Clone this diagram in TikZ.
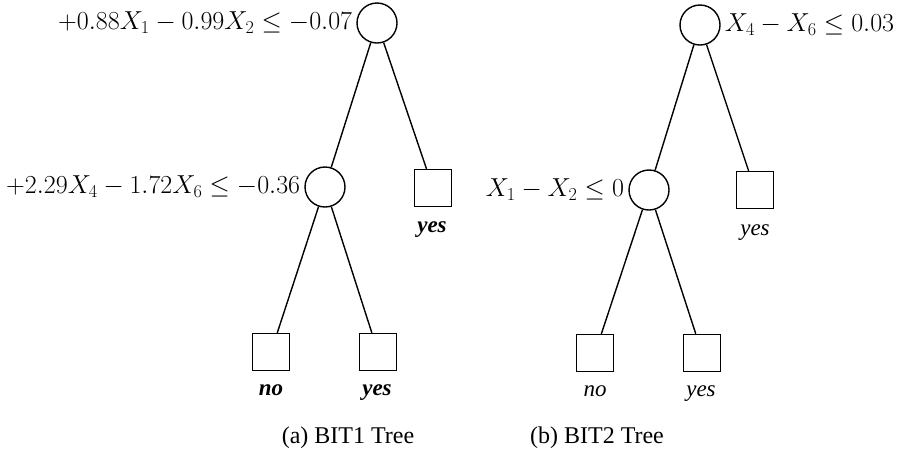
\RequirePackage{fix-cm}
\documentclass[tikz,border=0pt]{standalone}
\usepackage[no-math]{fontspec}
\setmainfont{Liberation Serif}
\begin{document}
\begin{tikzpicture}[x=1pt,y=-1pt,
  test/.style={draw,circle,line width=1.4pt,minimum size=40pt,inner sep=0pt},
  leaf/.style={draw,rectangle,line width=1.4pt,minimum size=37pt,inner sep=0pt},
  edge/.style={line width=1.4pt},
  cond/.style={inner sep=0pt,font=\fontsize{26}{30}\selectfont},
  lbl/.style={inner sep=0pt,anchor=base,font=\fontsize{23}{28}\selectfont\itshape},
  lblb/.style={inner sep=0pt,anchor=base,font=\fontsize{23}{28}\selectfont\bfseries\itshape},
  captxt/.style={inner sep=0pt,anchor=base,font=\fontsize{24}{28}\selectfont}]
\useasboundingbox (0,0) rectangle (902,459);

% BIT1 tree
\node[test] (a1) at (377,23) {};
\node[test] (a2) at (325,187) {};
\node[leaf] (a3) at (433,188) {};
\node[leaf] (a4) at (271,352) {};
\node[leaf] (a5) at (378,352) {};
\draw[edge] (a1) -- (a2);
\draw[edge] (a1) -- (a3);
\draw[edge] (a2) -- (a4);
\draw[edge] (a2) -- (a5);
\node[cond,anchor=east] (ca1) at ([xshift=-4pt]a1.west) {$+0.88X_1-0.99X_2\leq-0.07$};
\node[cond,anchor=east] (ca2) at ([xshift=-4pt]a2.west) {$+2.29X_4-1.72X_6\leq-0.36$};
\node[lblb] (la3) at (432,232) {yes};
\node[lblb] (la4) at (271,395) {no};
\node[lblb] (la5) at (377,395) {yes};
\node[captxt] (capa) at (348,443) {(a) BIT1 Tree};

% BIT2 tree
\node[test] (b1) at (700,25) {};
\node[test] (b2) at (649,190) {};
\node[leaf] (b3) at (755,190) {};
\node[leaf] (b4) at (595,353) {};
\node[leaf] (b5) at (702,353) {};
\draw[edge] (b1) -- (b2);
\draw[edge] (b1) -- (b3);
\draw[edge] (b2) -- (b4);
\draw[edge] (b2) -- (b5);
\node[cond,anchor=west] (cb1) at ([xshift=4pt]b1.east) {$X_4-X_6\leq0.03$};
\node[cond,anchor=east] (cb2) at ([xshift=-4pt]b2.west) {$X_1-X_2\leq0$};
\node[lbl] (lb3) at (755,235) {yes};
\node[lbl] (lb4) at (595,396) {no};
\node[lbl] (lb5) at (701,396) {yes};
\node[captxt] (capb) at (597,443) {(b) BIT2 Tree};
\end{tikzpicture}
\end{document}
